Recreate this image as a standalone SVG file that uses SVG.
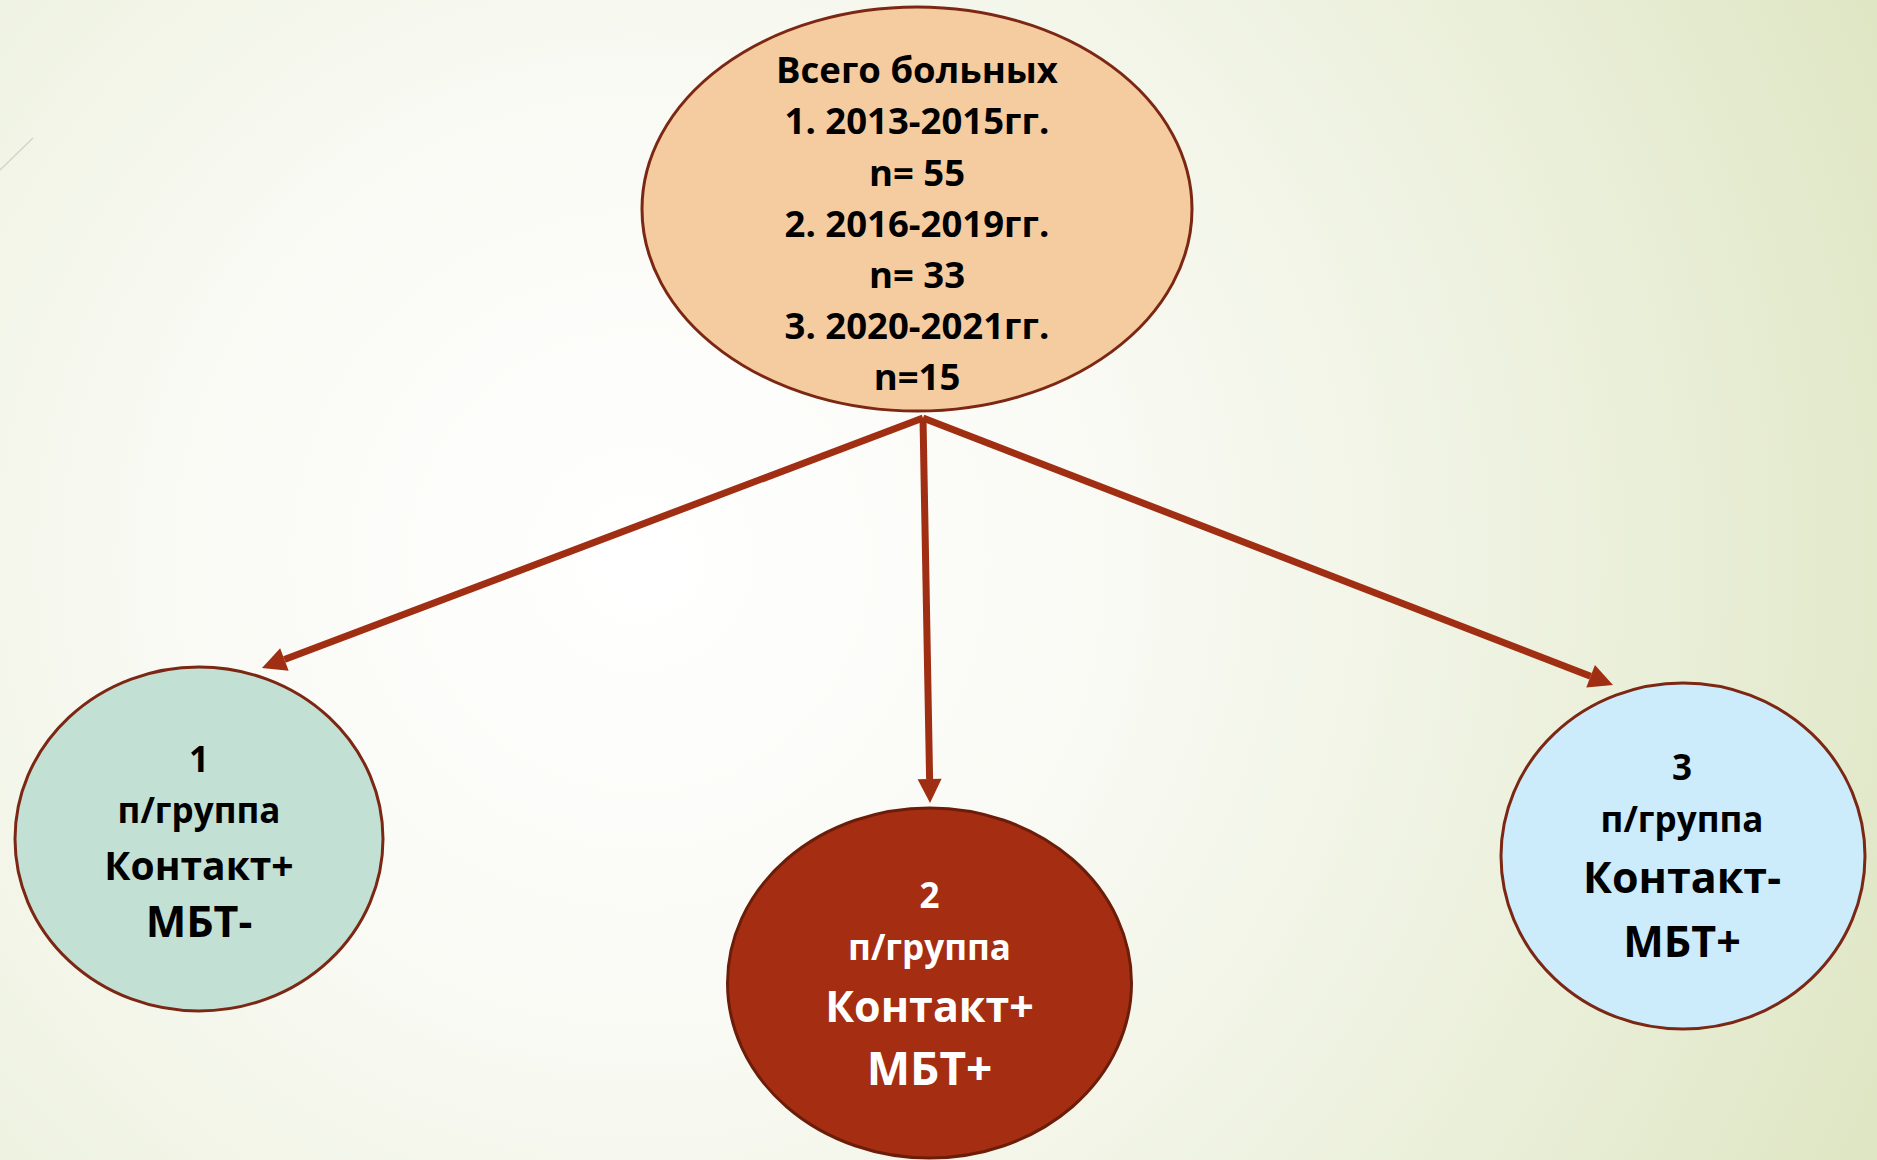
<svg xmlns="http://www.w3.org/2000/svg" width="1877" height="1160" viewBox="0 0 1877 1160">
<defs>
<radialGradient id="bg" cx="640" cy="560" r="1350" gradientUnits="userSpaceOnUse">
<stop offset="0" stop-color="#ffffff"/>
<stop offset="0.35" stop-color="#f9faf4"/>
<stop offset="0.75" stop-color="#eaefd9"/>
<stop offset="1" stop-color="#dfe6c4"/>
</radialGradient>
<marker id="ah" viewBox="0 -12 24 24" refX="0" refY="0" markerWidth="24" markerHeight="24" markerUnits="userSpaceOnUse" orient="auto" overflow="visible">
<path d="M0,-12 L24,0 L0,12 Z" fill="#a02e12"/>
</marker>
<style>
.lbl{font-family:"Open Sans","Liberation Sans",sans-serif;font-weight:bold;text-anchor:middle;fill:#000}
.w{fill:#ffffff}
.s{font-size:35px}
.t{font-size:36.5px}
.b{font-size:43px}
.node{stroke-width:3}
.edge{stroke:#a02e12;stroke-width:7;fill:none;marker-end:url(#ah)}
</style>
</defs>
<rect width="1877" height="1160" fill="url(#bg)"/>
<line x1="0" y1="170" x2="33" y2="138" stroke="#d3d7c4" stroke-width="1.5"/>
<g id="connectors">
<line class="edge" x1="923" y1="418" x2="284.4" y2="659.5"/>
<line class="edge" x1="923" y1="418" x2="929.6" y2="779"/>
<line class="edge" x1="923" y1="418" x2="1590.6" y2="676.3"/>
</g>
<g id="node-total">
<ellipse class="node" cx="917" cy="209" rx="275" ry="202" fill="#f5cba0" stroke="#7b2713"/>
<text class="lbl t" x="917" y="83">Всего больных</text>
<text class="lbl t" x="917" y="134">1. 2013-2015гг.</text>
<text class="lbl t" x="917" y="186">n= 55</text>
<text class="lbl t" x="917" y="237">2. 2016-2019гг.</text>
<text class="lbl t" x="917" y="288">n= 33</text>
<text class="lbl t" x="917" y="339">3. 2020-2021гг.</text>
<text class="lbl t" x="917" y="390">n=15</text>
</g>
<g id="node-1">
<ellipse class="node" cx="199" cy="839" rx="184" ry="172" fill="#c3e0d5" stroke="#7b2713"/>
<text class="lbl s" x="199" y="772">1</text>
<text class="lbl s" x="199" y="823">п/группа</text>
<text class="lbl b" x="199" y="880" style="font-size:39px">Контакт+</text>
<text class="lbl b" x="199" y="937">МБТ-</text>
</g>
<g id="node-2">
<ellipse class="node" cx="929.5" cy="983" rx="202" ry="175" fill="#a52d11" stroke="#6c1d0a"/>
<text class="lbl s w" x="929.5" y="908">2</text>
<text class="lbl s w" x="929.5" y="960">п/группа</text>
<text class="lbl b w" x="929.5" y="1022" style="font-size:43px">Контакт+</text>
<text class="lbl b w" x="929.5" y="1085" style="font-size:46px">МБТ+</text>
</g>
<g id="node-3">
<ellipse class="node" cx="1683" cy="856" rx="182" ry="173" fill="#ccebfb" stroke="#7b2713"/>
<text class="lbl s" x="1682" y="780">3</text>
<text class="lbl s" x="1682" y="832">п/группа</text>
<text class="lbl b" x="1682" y="893">Контакт-</text>
<text class="lbl b" x="1682" y="957">МБТ+</text>
</g>
</svg>
